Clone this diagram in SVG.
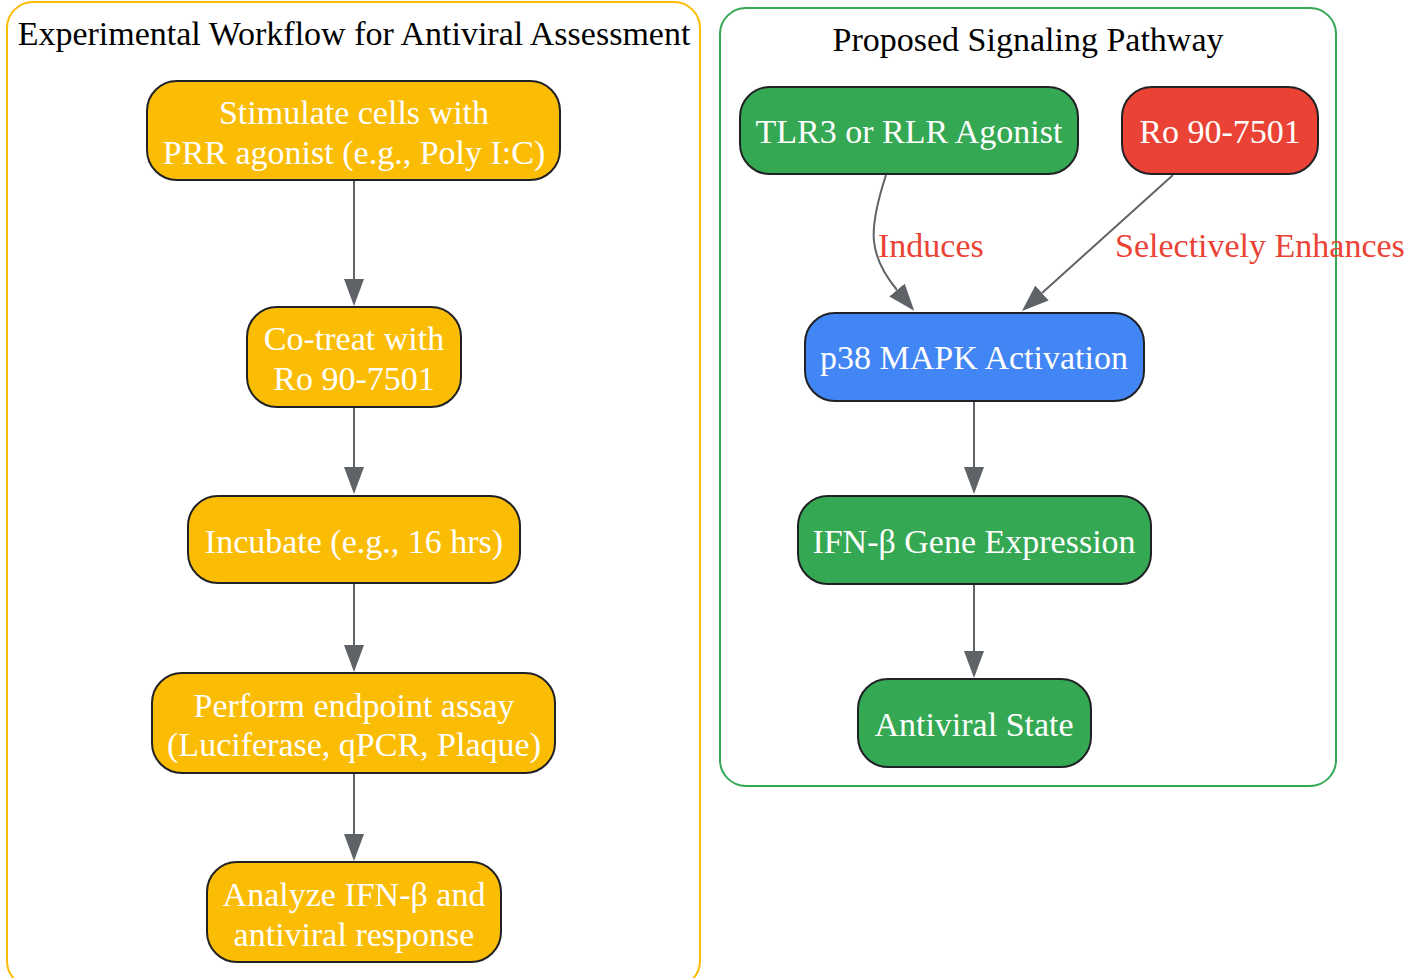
<svg xmlns="http://www.w3.org/2000/svg" width="1420" height="978" viewBox="0 0 1420 978">
<style>
text{font-family:"Liberation Serif","Times New Roman",serif;font-size:34px;text-anchor:middle}
.nt{fill:#ffffff}
.tt{fill:#000000}
.lbl{fill:#ea4335;text-anchor:start}
.node rect{stroke:#202124;stroke-width:2}
.y{fill:#fbbc04}.g{fill:#34a853}.r{fill:#ea4335}.b{fill:#4285f4}
.edge{fill:none;stroke:#5f6368;stroke-width:2;marker-end:url(#ah)}
.cl{fill:none;stroke-width:2}
</style>
<defs>
<marker id="ah" viewBox="0 0 27 20" markerWidth="27" markerHeight="20" refX="0" refY="10" markerUnits="userSpaceOnUse" orient="auto">
<path d="M0,0 L27,10 L0,20 z" fill="#5f6368"/>
</marker>
</defs>
<rect width="1420" height="978" fill="#ffffff"/>
<g id="cluster_workflow">
<rect class="cl" x="7" y="2" width="693" height="985" rx="26" stroke="#fbbc04"/>
<text class="tt" x="354" y="45">Experimental Workflow for Antiviral Assessment</text>
</g>
<g id="cluster_pathway">
<rect class="cl" x="720" y="8" width="616" height="778" rx="26" stroke="#34a853"/>
<text class="tt" x="1028" y="51">Proposed Signaling Pathway</text>
</g>
<g id="connectors">
<path class="edge" d="M354,180 L354,279"/>
<path class="edge" d="M354,407 L354,467"/>
<path class="edge" d="M354,583 L354,645"/>
<path class="edge" d="M354,773 L354,834"/>
<path class="edge" d="M886,175 C868,230 868,255 897,290"/>
<text class="lbl" x="878" y="257">Induces</text>
<path class="edge" d="M1173,175 L1042,293"/>
<text class="lbl" x="1115" y="257">Selectively Enhances</text>
<path class="edge" d="M974,401 L974,467"/>
<path class="edge" d="M974,584 L974,651"/>
</g>
<g id="stimulate" class="node">
<rect class="y" x="147" y="81" width="413" height="99" rx="30"/>
<text class="nt" x="354" y="124">Stimulate cells with</text>
<text class="nt" x="354" y="164">PRR agonist (e.g., Poly I:C)</text>
</g>
<g id="cotreat" class="node">
<rect class="y" x="247" y="307" width="214" height="100" rx="30"/>
<text class="nt" x="354" y="350">Co-treat with</text>
<text class="nt" x="354" y="390">Ro 90-7501</text>
</g>
<g id="incubate" class="node">
<rect class="y" x="188" y="496" width="332" height="87" rx="30"/>
<text class="nt" x="354" y="553">Incubate (e.g., 16 hrs)</text>
</g>
<g id="assay" class="node">
<rect class="y" x="152" y="673" width="403" height="100" rx="30"/>
<text class="nt" x="354" y="717">Perform endpoint assay</text>
<text class="nt" x="354" y="756">(Luciferase, qPCR, Plaque)</text>
</g>
<g id="analyze" class="node">
<rect class="y" x="207" y="862" width="294" height="100" rx="30"/>
<text class="nt" x="354" y="906">Analyze IFN-β and</text>
<text class="nt" x="354" y="946">antiviral response</text>
</g>
<g id="agonist" class="node">
<rect class="g" x="740" y="87" width="338" height="87" rx="30"/>
<text class="nt" x="909" y="143">TLR3 or RLR Agonist</text>
</g>
<g id="ro" class="node">
<rect class="r" x="1122" y="87" width="196" height="87" rx="30"/>
<text class="nt" x="1220" y="143">Ro 90-7501</text>
</g>
<g id="p38" class="node">
<rect class="b" x="805" y="313" width="339" height="88" rx="30"/>
<text class="nt" x="974" y="369">p38 MAPK Activation</text>
</g>
<g id="ifnb" class="node">
<rect class="g" x="798" y="496" width="353" height="88" rx="30"/>
<text class="nt" x="974" y="553">IFN-β Gene Expression</text>
</g>
<g id="antiviral" class="node">
<rect class="g" x="858" y="679" width="233" height="88" rx="30"/>
<text class="nt" x="974" y="736">Antiviral State</text>
</g>
</svg>
